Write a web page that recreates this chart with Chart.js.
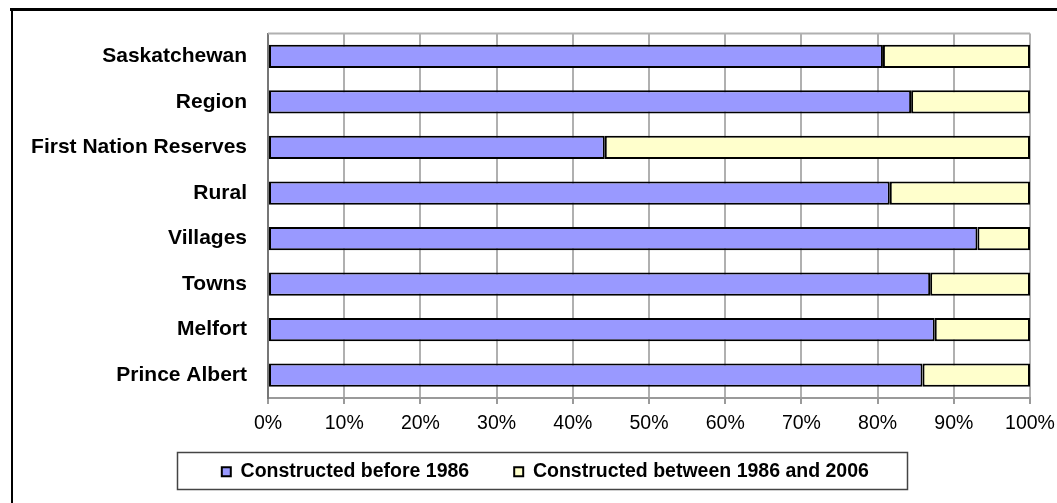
<!DOCTYPE html>
<html>
<head>
<meta charset="utf-8">
<script src="https://cdn.jsdelivr.net/npm/chart.js@4/dist/chart.umd.min.js"></script>
<style>
  html, body { margin: 0; padding: 0; background: #fff; }
  #wrap { position: absolute; left: 0; top: 0; width: 1057px; height: 503px; }
</style>
</head>
<body>
<div id="wrap"><canvas id="c" width="1057" height="503"></canvas></div>
<script>
const categories = ["Saskatchewan", "Region", "First Nation Reserves", "Rural", "Villages", "Towns", "Melfort", "Prince Albert"];
const before1986 = [80.7, 84.4, 44.2, 81.6, 93.1, 86.9, 87.5, 85.9];
const between1986and2006 = [19.3, 15.6, 55.8, 18.4, 6.9, 13.1, 12.5, 14.1];
const seriesNames = ["Constructed before 1986", "Constructed between 1986 and 2006"];
const xTicks = [0, 10, 20, 30, 40, 50, 60, 70, 80, 90, 100];

const FONT = "'Liberation Sans', Arial, sans-serif";

const framePlugin = {
  id: 'frame',
  afterLayout(chart) {
    const lg = chart.legend;
    if (lg) { lg.left = 60.7; lg.right = 1030; lg.top = 417; }
  },
  beforeDraw(chart) {
    const ctx = chart.ctx;
    ctx.save();
    ctx.fillStyle = '#fff';
    ctx.fillRect(0, 0, chart.width, chart.height);
    ctx.strokeStyle = '#000';
    ctx.lineWidth = 3;
    ctx.beginPath();
    ctx.moveTo(10, 9.5);
    ctx.lineTo(chart.width, 9.5);
    ctx.stroke();
    ctx.lineWidth = 2;
    ctx.beginPath();
    ctx.moveTo(12, 8);
    ctx.lineTo(12, chart.height);
    ctx.stroke();
    ctx.restore();
  },
  beforeDatasetsDraw(chart) {
    const a = chart.chartArea;
    const ctx = chart.ctx;
    ctx.save();
    ctx.strokeStyle = '#b0b0b0';
    ctx.lineWidth = 2;
    ctx.beginPath();
    ctx.moveTo(a.left, a.top);
    ctx.lineTo(a.right, a.top);
    ctx.stroke();
    ctx.restore();
  },
  afterDraw(chart) {
    const ctx = chart.ctx;
    ctx.save();
    ctx.strokeStyle = '#444';
    ctx.lineWidth = 1.5;
    ctx.strokeRect(177.5, 452.5, 730, 37);
    ctx.restore();
  }
};

new Chart(document.getElementById('c'), {
  type: 'bar',
  data: {
    labels: categories,
    datasets: [
      {
        label: seriesNames[0],
        data: before1986,
        backgroundColor: '#9999FF',
        borderColor: '#000',
        borderWidth: 2,
        borderSkipped: false
      },
      {
        label: seriesNames[1],
        data: between1986and2006,
        backgroundColor: '#FFFFCC',
        borderColor: '#000',
        borderWidth: 2,
        borderSkipped: false
      }
    ]
  },
  options: {
    indexAxis: 'y',
    responsive: false,
    animation: false,
    devicePixelRatio: 1,
    datasets: { bar: { categoryPercentage: 1.0, barPercentage: 0.51 } },
    layout: { padding: { left: 0, right: 27, top: 33, bottom: -14.9 } },
    scales: {
      x: {
        stacked: true,
        min: 0,
        max: 100,
        afterBuildTicks(scale) { scale.ticks = xTicks.map(v => ({ value: v })); },
        afterFit(scale) { scale.paddingLeft = 0; scale.paddingRight = 0; },
        ticks: {
          callback: v => v + '%',
          font: { family: FONT, size: 19.5 },
          color: '#000',
          padding: 8,
          maxRotation: 0
        },
        grid: {
          color: '#b0b0b0',
          lineWidth: 2,
          drawTicks: true,
          tickLength: 6,
          tickColor: '#9a9a9a'
        },
        border: { color: '#9a9a9a', width: 2 }
      },
      y: {
        stacked: true,
        afterFit(scale) { scale.width = 268; },
        ticks: {
          font: { family: FONT, size: 21, weight: 'bold' },
          color: '#000',
          padding: 21
        },
        grid: { display: false, drawTicks: false },
        border: { color: '#777', width: 2 }
      }
    },
    plugins: {
      legend: {
        position: 'bottom',
        labels: {
          font: { family: FONT, size: 19.5, weight: 'bold' },
          color: '#000',
          boxWidth: 9,
          boxHeight: 9,
          padding: 45,
          generateLabels(chart) {
            return chart.data.datasets.map((ds, i) => ({
              text: ds.label,
              fillStyle: ds.backgroundColor,
              strokeStyle: '#000',
              lineWidth: 2,
              datasetIndex: i,
              hidden: false
            }));
          }
        }
      },
      tooltip: { enabled: false }
    }
  },
  plugins: [framePlugin]
});
</script>
</body>
</html>
